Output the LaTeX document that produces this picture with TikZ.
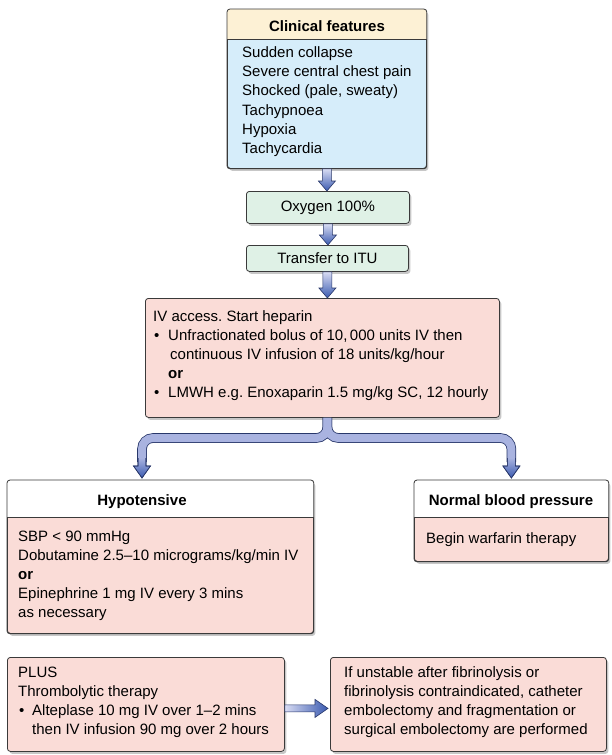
\documentclass[tikz,border=0pt]{standalone}
\usepackage{fontspec}
\setmainfont{Liberation Sans}
\usetikzlibrary{calc,shadows}
\frenchspacing

\definecolor{edge}{HTML}{3A3A3A}
\definecolor{headyellow}{HTML}{FDF1D5}
\definecolor{bodyblue}{HTML}{D6EDFA}
\definecolor{stepgreen}{HTML}{DFF1E6}
\definecolor{pinkbox}{HTML}{FADCD7}
\definecolor{arrlight}{HTML}{D8DCF3}
\definecolor{arrmid}{HTML}{A9B3E0}
\definecolor{arrdark}{HTML}{3A5AB0}
\definecolor{arredge}{HTML}{28376A}

\tikzset{
  box/.style={draw=edge, line width=0.8pt, rounded corners=3pt, inner sep=0pt,
    anchor=north west,
    drop shadow={shadow xshift=2pt, shadow yshift=-2.5pt, fill=black, opacity=0.22}},
  % multi-line texts are placed by the baseline of their last line
  txt/.style={inner sep=0pt, align=left, anchor=base west,
    font=\fontsize{15}{19.2}\selectfont},
  headtxt/.style={inner sep=0pt, anchor=base, font=\fontsize{15}{18}\selectfont\bfseries},
  steptxt/.style={font=\fontsize{15}{18}\selectfont},
  blockarrow/.style={draw=arredge, line width=0.6pt, line join=miter},
}

% vertical block arrow from a point straight down to the level of another point
\newcommand\vlink[2]{%
  \draw[blockarrow, top color=arrlight, bottom color=arrdark]
    let \p1=(#1), \p2=(#2) in
    (\x1-4.5pt,\y1) -- (\x1-4.5pt,\y2+10pt) -- (\x1-8.5pt,\y2+10pt) -- (\x1,\y2)
    -- (\x1+8.5pt,\y2+10pt) -- (\x1+4.5pt,\y2+10pt) -- (\x1+4.5pt,\y1) -- cycle;}

% arrow head closing one branch of the split connector
\newcommand\branchhead[1]{%
  \path[blockarrow, top color=arrmid, bottom color=arrdark]
    let \p1=(#1) in
    (\x1-4pt,\y1+20pt) -- (\x1-4pt,\y1+12pt) -- (\x1-8.5pt,\y1+12pt) -- (\x1,\y1)
    -- (\x1+8.5pt,\y1+12pt) -- (\x1+4pt,\y1+12pt) -- (\x1+4pt,\y1+20pt);
  \draw[blockarrow]
    let \p1=(#1) in
    (\x1-4pt,\y1+20pt) -- (\x1-4pt,\y1+12pt) -- (\x1-8.5pt,\y1+12pt) -- (\x1,\y1)
    -- (\x1+8.5pt,\y1+12pt) -- (\x1+4pt,\y1+12pt) -- (\x1+4pt,\y1+20pt);}

\begin{document}
\begin{tikzpicture}[x=1pt,y=-1pt]
\useasboundingbox[fill=white] (0,0) rectangle (612,755);

% ---------- clinical features ----------
\node[box, fill=bodyblue, minimum width=199pt, minimum height=159pt] (clin) at (227,9) {};
\begin{scope}
  \clip[rounded corners=3pt] (clin.north west) rectangle (clin.south east);
  \fill[headyellow] (clin.north west) rectangle ([yshift=-30pt]clin.north east);
\end{scope}
\draw[edge, line width=0.8pt] ([yshift=-30pt]clin.north west) -- ([yshift=-30pt]clin.north east);
\draw[edge, line width=0.8pt, rounded corners=3pt] (clin.north west) rectangle (clin.south east);
\node[headtxt] (clinhead) at (327,31) {Clinical features};
\node[txt] (clintext) at (242,153.5) {Sudden collapse\\Severe central chest pain\\Shocked (pale, sweaty)\\Tachypnoea\\Hypoxia\\Tachycardia};

% ---------- first steps ----------
\node[box, fill=stepgreen, minimum width=163pt, minimum height=32pt, steptxt] (oxy) at (246,191) {Oxygen 100\%};
\node[box, fill=stepgreen, minimum width=162pt, minimum height=26pt, steptxt] (itu) at (246,245) {Transfer to ITU};

% ---------- heparin ----------
\node[box, fill=pinkbox, minimum width=354pt, minimum height=119pt] (hep) at (145,298) {};
\node[txt] (heptext) at (153,397.8) {IV access. Start heparin\\
  \makebox[15pt][l]{\hspace{1pt}•}Unfractionated bolus of 10,\,000 units IV then\\
  \hspace*{17pt}continuous IV infusion of 18 units/kg/hour\\
  \hspace*{15pt}\textbf{or}\\
  \makebox[15pt][l]{\hspace{1pt}•}LMWH e.g. Enoxaparin 1.5 mg/kg SC, 12 hourly};

% ---------- hypotensive ----------
\node[box, fill=pinkbox, minimum width=306pt, minimum height=153pt] (hypo) at (7,480) {};
\begin{scope}
  \clip[rounded corners=3pt] (hypo.north west) rectangle (hypo.south east);
  \fill[white] (hypo.north west) rectangle ([yshift=-37pt]hypo.north east);
\end{scope}
\draw[edge, line width=0.8pt] ([yshift=-37pt]hypo.north west) -- ([yshift=-37pt]hypo.north east);
\draw[edge, line width=0.8pt, rounded corners=3pt] (hypo.north west) rectangle (hypo.south east);
\node[headtxt] (hypohead) at (142,505) {Hypotensive};
\node[txt] (hypotext) at (18,617.8) {SBP < 90 mmHg\\Dobutamine 2.5–10 micrograms/kg/min IV\\\textbf{or}\\Epinephrine 1 mg IV every 3 mins\\as necessary};

% ---------- normal blood pressure ----------
\node[box, fill=pinkbox, minimum width=194pt, minimum height=81pt] (normal) at (414,480) {};
\begin{scope}
  \clip[rounded corners=3pt] (normal.north west) rectangle (normal.south east);
  \fill[white] (normal.north west) rectangle ([yshift=-37pt]normal.north east);
\end{scope}
\draw[edge, line width=0.8pt] ([yshift=-37pt]normal.north west) -- ([yshift=-37pt]normal.north east);
\draw[edge, line width=0.8pt, rounded corners=3pt] (normal.north west) rectangle (normal.south east);
\node[headtxt] (normhead) at (511,505) {Normal blood pressure};
\node[txt] (normtext) at (426,543) {Begin warfarin therapy};

% ---------- thrombolysis and surgery ----------
\node[box, fill=pinkbox, minimum width=277pt, minimum height=94pt] (plus) at (7,657) {};
\node[txt] (plustext) at (18,734.6) {PLUS\\Thrombolytic therapy\\
  \makebox[14pt][l]{\hspace{1pt}•}Alteplase 10 mg IV over 1–2 mins\\
  \hspace*{14pt}then IV infusion 90 mg over 2 hours};
\node[box, fill=pinkbox, minimum width=276pt, minimum height=94pt] (surg) at (330,657) {};
\node[txt] (surgtext) at (344,734.6) {If unstable after fibrinolysis or\\fibrinolysis contraindicated, catheter\\embolectomy and fragmentation or\\surgical embolectomy are performed};

% ---------- connectors ----------
\vlink{clin.south}{oxy.north}
\vlink{oxy.south}{itu.north}
\vlink{itu.south}{itu.south |- hep.north}

\coordinate (split) at (itu.south |- hep.south);
\coordinate (lturn) at (142,438);
\coordinate (rturn) at (normal.north |- lturn);
\coordinate (lend) at ([yshift=2pt]lturn |- hypo.north);
\coordinate (rend) at ([yshift=2pt]rturn |- normal.north);
\coordinate (lstop) at ([yshift=16pt]lend);
\coordinate (rstop) at ([yshift=16pt]rend);

\foreach \w/\c in {9.6pt/arredge, 8pt/arrmid}{
  \draw[line width=\w, \c, rounded corners=11pt]
    (split) -- (split |- lturn) -- (lturn) -- (lstop);
  \draw[line width=\w, \c, rounded corners=11pt]
    (split) -- (split |- rturn) -- (rturn) -- (rstop);
}
\branchhead{lend}
\branchhead{rend}

\draw[blockarrow, left color=arrlight, right color=arrdark]
  let \p1=([yshift=-4pt]plus.east), \p2=(surg.west) in
  (\x1,\y1+3.5pt) -- (\x2-15pt,\y1+3.5pt) -- (\x2-15pt,\y1+9pt) -- (\x2-2pt,\y1)
  -- (\x2-15pt,\y1-9pt) -- (\x2-15pt,\y1-3.5pt) -- (\x1,\y1-3.5pt) -- cycle;
\end{tikzpicture}
\end{document}
